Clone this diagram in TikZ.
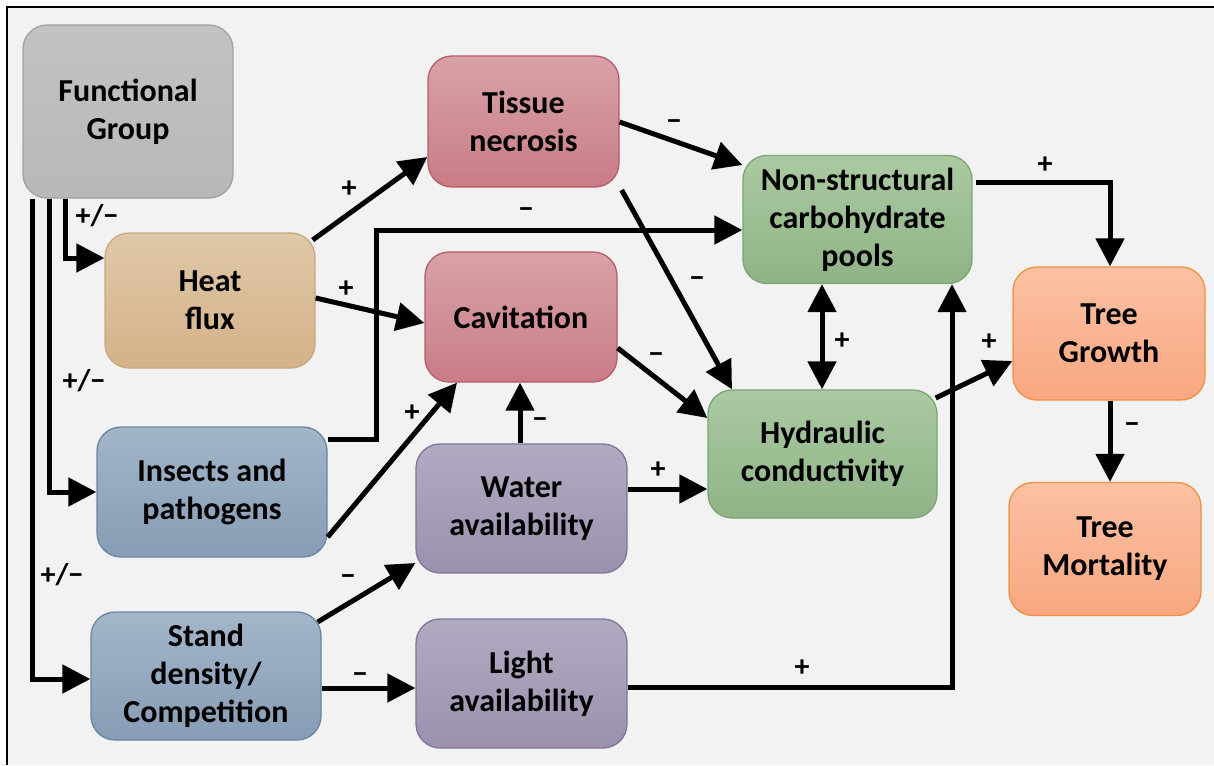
\documentclass[tikz,border=0pt]{standalone}
\usepackage{fontspec}
\setmainfont{Carlito}
\usetikzlibrary{arrows.meta}
\definecolor{bgc}{HTML}{F2F2F2}
\definecolor{grayT}{HTML}{C2C2C2}\definecolor{grayB}{HTML}{B8B8B8}\definecolor{grayD}{HTML}{A2A2A2}
\definecolor{heatT}{HTML}{DFC8A8}\definecolor{heatB}{HTML}{D4B289}\definecolor{heatD}{HTML}{C9A97F}
\definecolor{bluT}{HTML}{A2B5C9}\definecolor{bluB}{HTML}{879DB5}\definecolor{bluD}{HTML}{6A86A2}
\definecolor{redT}{HTML}{D8A2A8}\definecolor{redB}{HTML}{C97C85}\definecolor{redD}{HTML}{B65D69}
\definecolor{purT}{HTML}{B2AAC1}\definecolor{purB}{HTML}{9B91AF}\definecolor{purD}{HTML}{7F7599}
\definecolor{grnT}{HTML}{AACAA2}\definecolor{grnB}{HTML}{8FB386}\definecolor{grnD}{HTML}{7BA572}
\definecolor{orT}{HTML}{FBC1A3}\definecolor{orB}{HTML}{F9A781}\definecolor{orD}{HTML}{EE9040}
\tikzset{
  box/.style={rounded corners=24pt, line width=1.3pt, align=center, inner sep=0pt,
    font=\bfseries\fontsize{32}{38}\selectfont},
  graybox/.style={box, draw=grayD, top color=grayT, bottom color=grayB},
  heatbox/.style={box, draw=heatD, top color=heatT, bottom color=heatB},
  bluebox/.style={box, draw=bluD, top color=bluT, bottom color=bluB},
  redbox/.style={box, draw=redD, top color=redT, bottom color=redB},
  purbox/.style={box, draw=purD, top color=purT, bottom color=purB},
  grnbox/.style={box, draw=grnD, top color=grnT, bottom color=grnB},
  orbox/.style={box, draw=orD, top color=orT, bottom color=orB},
  arr/.style={line width=5pt, -{Triangle[length=28pt,width=28pt]}},
  darr/.style={line width=5pt, {Triangle[length=28pt,width=28pt]}-{Triangle[length=28pt,width=28pt]}},
  lab/.style={font=\bfseries\fontsize{30}{30}\selectfont, inner sep=0pt}
}
\begin{document}
\begin{tikzpicture}[x=1pt,y=-1pt]
\useasboundingbox (0,0) rectangle (1214,765);
\fill[white] (0,0) rectangle (1214,765);
\fill[bgc] (7,7) rectangle (1214,765);
\draw[line width=2.2pt] (7,765) -- (7,7) -- (1214,7);

% nodes
\node[graybox, minimum width=210pt, minimum height=173pt] (fg) at (128,111.5) {Functional\\Group};
\node[heatbox, minimum width=210pt, minimum height=135pt] (heat) at (210,300.5) {Heat\\flux};
\node[bluebox, minimum width=230pt, minimum height=130pt] (ins) at (212,492) {Insects and\\pathogens};
\node[bluebox, minimum width=230pt, minimum height=128pt] (stand) at (206,676) {Stand\\density/\\Competition};
\node[redbox, minimum width=191pt, minimum height=131pt] (tis) at (523.5,121.5) {Tissue\\necrosis};
\node[redbox, minimum width=192pt, minimum height=130pt] (cav) at (521,317) {Cavitation};
\node[purbox, minimum width=211pt, minimum height=129pt] (water) at (521.5,508.5) {Water\\availability};
\node[purbox, minimum width=211pt, minimum height=129pt] (light) at (521.5,683.5) {Light\\availability};
\node[grnbox, minimum width=229pt, minimum height=128pt] (nsc) at (857.5,219.5) {Non-structural\\carbohydrate\\pools};
\node[grnbox, minimum width=229pt, minimum height=128pt] (hyd) at (822.5,454) {Hydraulic\\conductivity};
\node[orbox, minimum width=192pt, minimum height=133pt] (tg) at (1109,333.5) {Tree\\Growth};
\node[orbox, minimum width=192pt, minimum height=133pt] (tm) at (1105,549) {Tree\\Mortality};

% connectors
\draw[arr] (fg.south -| 65,0) |- (heat.west |- 0,258);
\draw[arr] (fg.south -| 49,0) |- (ins.west);
\draw[arr] (fg.south -| 32,0) |- (stand.west |- 0,679);
\draw[arr] (heat.east |- 0,240) ++(-3,0) -- (tis.west |- 0,157);
\draw[arr] (heat.east |- 0,298) -- (cav.west |- 0,323);
\draw[arr] (ins.east |- 0,439) -| (376,230) -- (nsc.west |- 0,230);
\draw[arr] (ins.east |- 0,537) -- (cav.south -| 457,0);
\draw[arr] (stand.east |- 0,622) ++(-4,0) -- (water.west |- 0,563);
\draw[arr] (stand.east |- 0,688) -- (light.west |- 0,688);
\draw[arr] (water.north -| 520,0) -- (cav.south -| 520,0);
\draw[arr] (water.east |- 0,489) -- (hyd.west |- 0,489);
\draw[arr] (light.east |- 0,687) -| (nsc.south -| 952,0);
\draw[arr] (tis.east |- 0,122) -- (nsc.west |- 0,165);
\draw[arr] (tis.east |- 0,190) ++(2,0) -- (hyd.north -| 732,0);
\draw[arr] (cav.east |- 0,348) -- (hyd.west |- 0,418);
\draw[darr] (nsc.south -| 822,0) -- (hyd.north -| 822,0);
\draw[arr] (hyd.east |- 0,398) ++(-2,0) -- (tg.west |- 0,361);
\draw[arr] (nsc.east |- 0,182) ++(3,0) -| (tg.north -| 1110,0);
\draw[arr] (tg.south -| 1110,0) -- (tm.north -| 1110,0);

% labels
\node[lab] (l1) at (97,216) {+/−};
\node[lab] (l2) at (84,381) {+/−};
\node[lab] (l3) at (62,575) {+/−};
\node[lab] (l4) at (349,189) {+};
\node[lab] (l5) at (346,289) {+};
\node[lab] (l6) at (526,213) {−};
\node[lab] (l7) at (412,413) {+};
\node[lab] (l8) at (348,580) {−};
\node[lab] (l9) at (360,678) {−};
\node[lab] (l10) at (540,423) {−};
\node[lab] (l11) at (658,470) {+};
\node[lab] (l12) at (802,668) {+};
\node[lab] (l13) at (674,125) {−};
\node[lab] (l14) at (697,282) {−};
\node[lab] (l15) at (656,358) {−};
\node[lab] (l16) at (842,341) {+};
\node[lab] (l17) at (989,342) {+};
\node[lab] (l18) at (1045,165) {+};
\node[lab] (l19) at (1132,428) {−};
\end{tikzpicture}
\end{document}
